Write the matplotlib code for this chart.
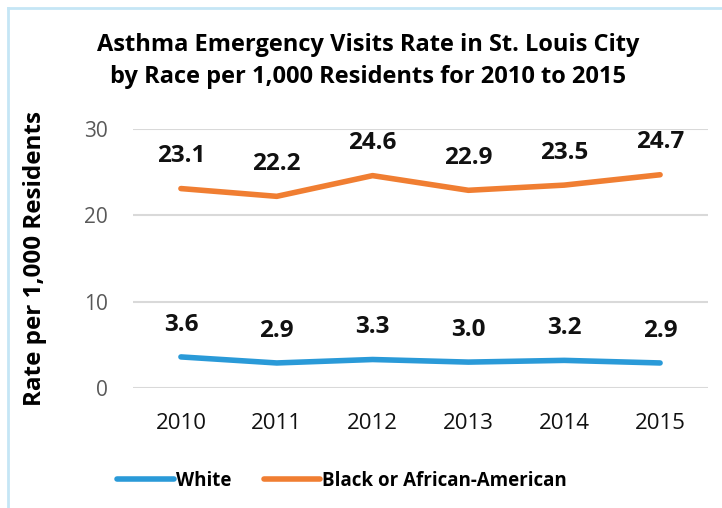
import matplotlib
matplotlib.use("Agg")
import matplotlib.pyplot as plt
from matplotlib.lines import Line2D

years = ["2010", "2011", "2012", "2013", "2014", "2015"]
white = [3.6, 2.9, 3.3, 3.0, 3.2, 2.9]
black = [23.1, 22.2, 24.6, 22.9, 23.5, 24.7]
yticks = [0, 10, 20, 30]

plt.rcParams['font.family'] = ['Open Sans', 'DejaVu Sans']

W, H = 722, 508
fig = plt.figure(figsize=(W / 100, H / 100), dpi=100)
fig.patch.set_facecolor('white')

# plot area in pixels: x 133..708, y 129..388
ax = fig.add_axes([133 / W, 1 - 388 / H, (708 - 133) / W, (388 - 129) / H])
x = list(range(len(years)))
blue = '#2A9AD8'
orange = '#F07E32'
ax.plot(x, white, color=blue, lw=4, solid_capstyle='round', label='White')
ax.plot(x, black, color=orange, lw=4, solid_capstyle='round', label='Black or African-American')

for series in (white, black):
    for xi, v in zip(x, series):
        ax.annotate(f"{v:.1f}", (xi, v), xytext=(0, 19), textcoords='offset points',
                    ha='center', va='baseline', fontsize=17.5, fontweight='bold', color='#111111')

ax.set_xlim(-0.5, len(years) - 0.5)
ax.set_ylim(0, 30)
ax.set_yticks(yticks)
ax.set_xticks(x)
ax.set_xticklabels(years)
ax.yaxis.grid(True, color='#D9D9D9', lw=1.5)
ax.set_axisbelow(True)
for s in ax.spines.values():
    s.set_visible(False)
ax.tick_params(axis='both', length=0)
ax.tick_params(axis='y', labelsize=15, labelcolor='#595959', pad=18)
ax.tick_params(axis='x', labelsize=16, labelcolor='#111111', pad=18)
ax.set_ylabel("Rate per 1,000 Residents", fontsize=17.5, fontweight='bold')
ax.yaxis.set_label_coords(-(133 - 47) / (708 - 133), 0.5)

fig.text(368 / W, 1 - 61 / H,
         "Asthma Emergency Visits Rate in St. Louis City\nby Race per 1,000 Residents for 2010 to 2015",
         ha='center', va='center', fontsize=17, fontweight='bold', linespacing=1.4)

leg = fig.legend(loc='center', bbox_to_anchor=(342 / W, 1 - 481 / H), ncol=2, frameon=False,
                 handlelength=3.0, columnspacing=1.75, handletextpad=0.1,
                 prop={'weight': 'bold', 'size': 13.5})

# light blue border (top and left)
fig.add_artist(Line2D([8 / W, 1], [1 - 8 / H, 1 - 8 / H], color='#C5E6F5', lw=2, transform=fig.transFigure))
fig.add_artist(Line2D([8 / W, 8 / W], [0, 1 - 8 / H], color='#C5E6F5', lw=2, transform=fig.transFigure))

fig.savefig("out.png", dpi=100, facecolor='white')
